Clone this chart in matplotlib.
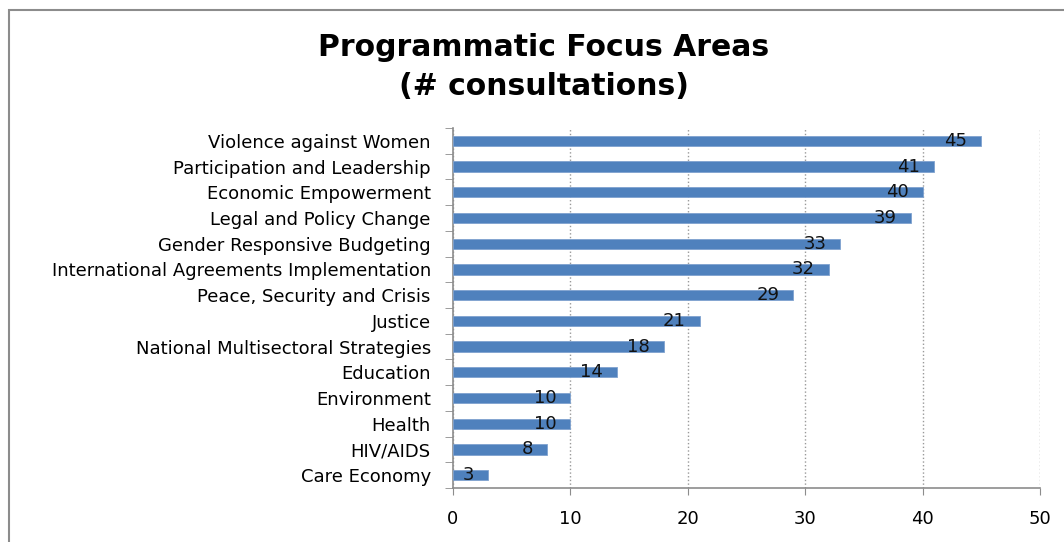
import matplotlib.pyplot as plt
from matplotlib.patches import Rectangle

categories = [
    "Violence against Women",
    "Participation and Leadership",
    "Economic Empowerment",
    "Legal and Policy Change",
    "Gender Responsive Budgeting",
    "International Agreements Implementation",
    "Peace, Security and Crisis",
    "Justice",
    "National Multisectoral Strategies",
    "Education",
    "Environment",
    "Health",
    "HIV/AIDS",
    "Care Economy",
]
values = [45, 41, 40, 39, 33, 32, 29, 21, 18, 14, 10, 10, 8, 3]
xticks = [0, 10, 20, 30, 40, 50]

plt.rcParams['font.family'] = ['DejaVu Sans']

fig = plt.figure(figsize=(10.64, 5.42), dpi=100)
ax = fig.add_axes([453 / 1064, 1 - 488 / 542, (1040 - 453) / 1064, (488 - 128) / 542])

# chart frame
fig.patches.append(Rectangle((9 / 1064, -0.1), 1.2, 1 - 10 / 542 + 0.1,
                             transform=fig.transFigure, fill=False,
                             edgecolor='#8c8c8c', linewidth=1.5))

pos = list(range(len(categories)))[::-1]
bars = ax.barh(pos, values, height=0.4, color='#4F81BD', edgecolor='#7fa2cf', linewidth=0.6, zorder=3)

for b, v in zip(bars, values):
    ax.text(b.get_width() - 1.2, b.get_y() + b.get_height() / 2, str(v),
            ha='right', va='center', fontsize=13, color='#111111', zorder=4)

ax.set_xlim(0, 50)
ax.set_ylim(-0.5, len(categories) - 0.5)
ax.set_xticks(xticks)
ax.set_yticks(pos)
ax.set_yticklabels(categories, fontsize=13)
ax.tick_params(axis='y', length=0, pad=16)
ax.tick_params(axis='x', length=5, direction='out', color='#8c8c8c', labelsize=13, pad=11)
ax.set_yticks([i - 0.5 for i in range(len(categories) + 1)], minor=True)
ax.tick_params(axis='y', which='minor', length=6, direction='out', color='#8c8c8c')

ax.grid(axis='x', linestyle=':', color='#999999', linewidth=1, zorder=0)
for s in ['top', 'right']:
    ax.spines[s].set_visible(False)
for s in ['left', 'bottom']:
    ax.spines[s].set_color('#8c8c8c')
    ax.spines[s].set_linewidth(1.2)

fig.text(544 / 1064, 1 - 67 / 542, "Programmatic Focus Areas\n(# consultations)",
         ha='center', va='center', fontsize=21.5, fontweight='bold', linespacing=1.42)

fig.savefig('out.png', dpi=100)
